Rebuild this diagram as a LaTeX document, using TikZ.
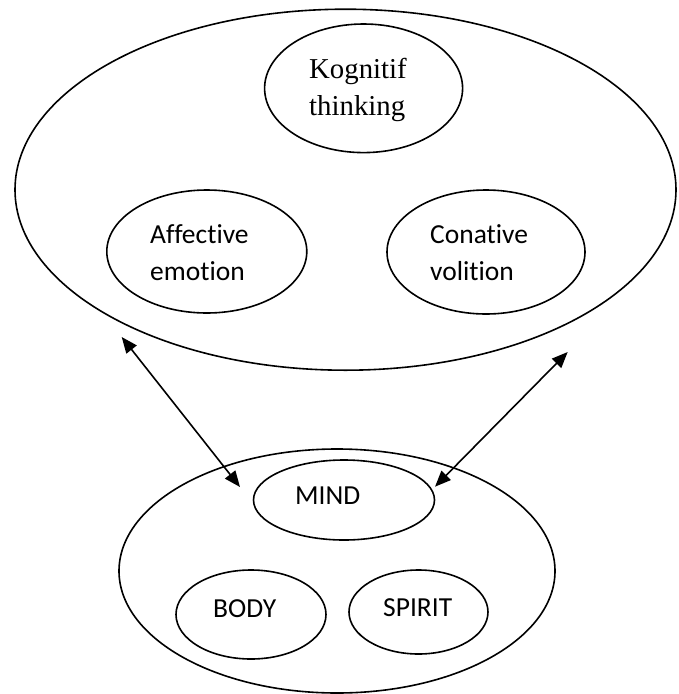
\documentclass[tikz,border=0pt]{standalone}
\usepackage{fontspec}
\setmainfont{Carlito}[Ligatures=NoCommon]
\newfontfamily\timesf{Liberation Serif}[Ligatures=NoCommon]
\usetikzlibrary{arrows.meta,shapes.geometric}
\begin{document}
\begin{tikzpicture}[x=1pt,y=-1pt,
  ov/.style 2 args={draw, ellipse, line width=1.6pt, inner sep=0pt, minimum width=#1, minimum height=#2},
  lbl/.style={font=\fontsize{27.5}{37}\selectfont, align=left, inner sep=0pt, anchor=base west},
  conn/.style={line width=1.6pt, {Triangle[length=16pt,width=13pt]}-{Triangle[length=16pt,width=13pt]}}
]
\useasboundingbox (0,0) rectangle (678,694);
% upper group
\node[ov={661pt}{361pt}] (psyche) at (345.5,189.7) {};
\node[ov={198pt}{128.6pt}] (kog) at (363.6,88.3) {};
\node[ov={200pt}{123pt}] (aff) at (206.8,251.5) {};
\node[ov={198pt}{124pt}] (con) at (486,252) {};
\node[lbl, font=\timesf\fontsize{28.8}{37}\selectfont] (kogt) at (309,115) {Kognitif\\thinking};
\node[lbl] (afft) at (150,280) {Affective\\emotion};
\node[lbl] (cont) at (430,280) {Conative\\volition};
% lower group
\node[ov={436pt}{244pt}] (human) at (337,571) {};
\node[ov={181pt}{80pt}] (mind) at (344,500) {};
\node[ov={150pt}{89pt}] (body) at (251,614.5) {};
\node[ov={139pt}{84pt}] (spirit) at (418.5,612) {};
\node[lbl] (mindt) at (295,504) {MIND};
\node[lbl] (bodyt) at (213,617) {BODY};
\node[lbl] (spiritt) at (383,616) {SPIRIT};
% connectors
\coordinate (la1) at (121.7,337);
\coordinate (la2) at (240,487);
\coordinate (ra1) at (567.7,352);
\coordinate (ra2) at (435,486.7);
\draw[conn] (la1) -- (la2);
\draw[conn] (ra1) -- (ra2);
\end{tikzpicture}
\end{document}
